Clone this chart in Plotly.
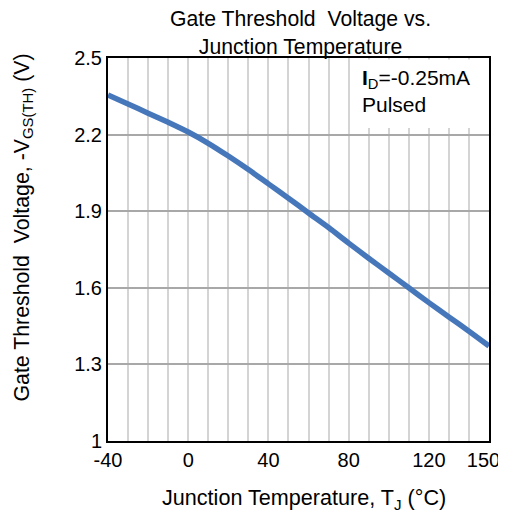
import plotly.graph_objects as go

temp_c = [-40, -30, -20, -10, 0, 10, 20, 30, 40, 50, 60, 70, 80, 90, 100, 110, 120, 130, 140, 150]
vth = [2.355, 2.320, 2.284, 2.248, 2.210, 2.166, 2.116, 2.063, 2.007, 1.951, 1.893, 1.836, 1.775,
       1.716, 1.658, 1.600, 1.542, 1.486, 1.430, 1.372]

x_ticks = [-40, 0, 40, 80, 120, 150]
x_tick_labels = ["-40", "0", "40", "80", "120", "150\u00a0\u00a0"]
y_ticks = [1.0, 1.3, 1.6, 1.9, 2.2, 2.5]
y_tick_labels = ["1", "1.3", "1.6", "1.9", "2.2", "2.5"]

FONT = "Liberation Sans, Arial, sans-serif"
# the page body has an 8px default margin; size the figure so no scrollbars appear
OFF = 8
W, H = 506 - OFF, 505
L, T = 108 - OFF, 58 - OFF
PW, PH = 381, 383
R, B = W - L - PW, H - T - PH

fig = go.Figure()
fig.add_trace(go.Scatter(x=temp_c, y=vth, mode="lines",
                         line=dict(color="#4677bb", width=5.5, shape="spline", smoothing=0.8),
                         showlegend=False, hoverinfo="skip"))

fig.update_layout(
    width=W, height=H,
    margin=dict(l=L, r=R, t=T, b=B, autoexpand=False),
    paper_bgcolor="white", plot_bgcolor="white",
    font=dict(family=FONT, color="black"),
    xaxis=dict(range=[-40, 150], tickvals=x_ticks, ticktext=x_tick_labels, ticks="",
               tickfont=dict(size=20), automargin=False, ticklabeloverflow="allow",
               showgrid=True, gridcolor="#d4d4d4", gridwidth=1.5,
               minor=dict(dtick=10, tick0=-40, showgrid=True, gridcolor="#d4d4d4", gridwidth=1.5),
               showline=True, linecolor="black", linewidth=2, mirror=True, zeroline=False),
    yaxis=dict(range=[1.0, 2.5], tickvals=y_ticks, ticktext=y_tick_labels, ticks="",
               tickfont=dict(size=20), automargin=False, showgrid=True, gridcolor="#a8a8a8", gridwidth=2,
               showline=True, linecolor="black", linewidth=2, mirror=True, zeroline=False),
)

# chart title
fig.add_annotation(xref="paper", yref="paper", x=0.505, y=1, yshift=T + 3, xanchor="center", yanchor="top",
                   text="Gate Threshold  Voltage vs.<br>Junction Temperature", showarrow=False,
                   font=dict(size=21.2, family=FONT, color="black"))
# axis titles
fig.add_annotation(xref="paper", yref="paper", x=0.515, y=0, yshift=-74,
                   xanchor="center", yanchor="bottom",
                   text="Junction Temperature, T<sub>J</sub> (°C)", showarrow=False,
                   font=dict(size=21.6, family=FONT, color="black"))
fig.add_annotation(xref="paper", yref="paper", x=0, xshift=-86, y=(441 - 227.5) / PH,
                   xanchor="center", yanchor="middle", textangle=-90,
                   text="Gate Threshold  Voltage, -V<sub>GS(TH)</sub> (V)", showarrow=False,
                   font=dict(size=21.3, family=FONT, color="black"))

# condition box
fig.add_shape(type="rect", xref="paper", yref="paper", x0=(350 - 108) / PW, x1=0.996,
              y0=(441 - 128) / PH, y1=0.996,
              fillcolor="white", line=dict(width=0), layer="above")
fig.add_annotation(xref="paper", yref="paper", x=(360 - 108) / PW, y=(441 - 64) / PH,
                   xanchor="left", yanchor="top",
                   text="<b>I</b><sub>D</sub>=-0.25mA<br>Pulsed", align="left", showarrow=False,
                   font=dict(size=21, family=FONT, color="black"))

fig.write_html("out.html")
